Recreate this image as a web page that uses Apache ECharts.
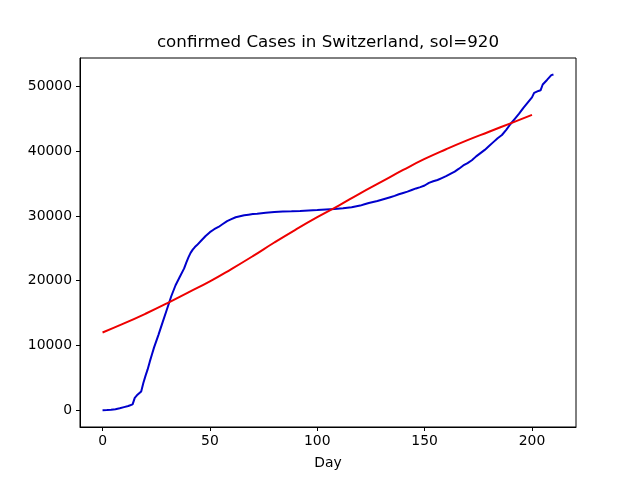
<!DOCTYPE html>
<html lang="en">
<head>
    <meta charset="UTF-8">
    <title>confirmed Cases in Switzerland</title>
    <script src="https://cdn.jsdelivr.net/npm/echarts@6/dist/echarts.min.js"></script>
    <style>
        body { margin: 0; background: #fff; }
        #main { width: 640px; height: 480px; }
    </style>
</head>
<body>
    <div id="main"></div>
    <script type="text/javascript">
        // observed confirmed cases (blue)
        var caseDays = [0, 2, 4, 6, 8, 10, 12, 14, 15, 16, 18, 19, 20, 21, 22, 23, 24, 26, 28, 30,
            32, 34, 36, 38, 39, 40, 41, 42, 43, 44, 46, 48, 50, 52, 54, 56, 58, 60, 62, 64, 66,
            68, 70, 72, 74, 76, 80, 84, 88, 92, 96, 100, 104, 108, 112, 116, 120, 122, 124, 126, 128,
            130, 132, 134, 136, 138, 140, 142, 144, 146, 148, 150, 152, 154, 156, 158, 160, 162, 164, 166, 168,
            170, 172, 174, 176, 178, 180, 182, 184, 186, 188, 190, 192, 194, 196, 198, 200, 201, 203, 204, 205,
            207, 209, 210];
        var cases = [0, 20, 60, 150, 300, 480, 650, 900, 1900, 2300, 2900, 4200, 5300, 6300, 7500, 8600, 9700, 11600, 13600, 15600,
            17600, 19300, 20600, 21900, 22800, 23600, 24300, 24800, 25200, 25500, 26200, 26900, 27500, 27950, 28300, 28750, 29200, 29500, 29800, 29950, 30100,
            30200, 30300, 30350, 30420, 30480, 30600, 30680, 30720, 30780, 30850, 30920, 31000, 31080, 31200, 31350, 31600, 31800, 32000, 32150, 32300,
            32500, 32700, 32900, 33100, 33350, 33550, 33750, 34000, 34250, 34450, 34700, 35100, 35350, 35550, 35850, 36150, 36500, 36850, 37300, 37800,
            38150, 38600, 39200, 39700, 40200, 40800, 41400, 42000, 42500, 43300, 44200, 45000, 45800, 46700, 47500, 48300, 49000, 49300, 49400, 50300,
            51000, 51750, 51850];

        // fitted curve (red)
        var fitDays = [0, 10, 20, 30, 40, 50, 60, 70, 80, 90, 100, 110, 120, 130, 140, 150, 160, 170, 180, 190, 200];
        var fitCases = [12000, 13400, 14900, 16500, 18200, 19900, 21800, 23800, 25900, 27900, 29800, 31600, 33500, 35300, 37100, 38800, 40300, 41700, 43000, 44300, 45600];

        var xTicks = [0, 50, 100, 150, 200];
        var yTicks = [0, 10000, 20000, 30000, 40000, 50000];

        function pairs(xs, ys) {
            return xs.map(function (x, i) { return [x, ys[i]]; });
        }

        var font = 'DejaVu Sans';
        var myChart = echarts.init(document.getElementById('main'));

        var option = {
            animation: false,
            graphic: [{
                type: 'text',
                x: 328,
                y: 43,
                style: {
                    text: 'confirmed Cases in Switzerland, sol=920',
                    align: 'center',
                    verticalAlign: 'middle',
                    fontFamily: font,
                    fontSize: 16.7,
                    fill: '#000'
                }
            }],
            grid: {
                left: 80, right: 64, top: 58, bottom: 53,
                show: true, borderColor: '#000', borderWidth: 1
            },
            xAxis: {
                type: 'value',
                min: -10.5,
                max: 220.5,
                name: 'Day',
                nameLocation: 'middle',
                nameGap: 29,
                nameTextStyle: { fontFamily: font, fontSize: 13.9, color: '#000' },
                axisLine: { show: true, onZero: false, lineStyle: { color: '#000' } },
                axisTick: { show: true, length: 4, customValues: xTicks, lineStyle: { color: '#000' } },
                axisLabel: { margin: 7, customValues: xTicks, fontFamily: font, fontSize: 13.9, color: '#000' },
                splitLine: { show: false }
            },
            yAxis: {
                type: 'value',
                min: -2590,
                max: 54390,
                axisLine: { show: true, onZero: false, lineStyle: { color: '#000' } },
                axisTick: { show: true, length: 4, customValues: yTicks, lineStyle: { color: '#000' } },
                axisLabel: {
                    margin: 8, customValues: yTicks, fontFamily: font, fontSize: 13.9, color: '#000',
                    formatter: function (v) { return String(v); }
                },
                splitLine: { show: false }
            },
            series: [{
                type: 'line',
                data: pairs(caseDays, cases),
                showSymbol: false,
                lineStyle: { color: '#0000cc', width: 2 }
            }, {
                type: 'line',
                data: pairs(fitDays, fitCases),
                smooth: true,
                showSymbol: false,
                lineStyle: { color: '#ee0000', width: 2 }
            }]
        };

        myChart.setOption(option);
    </script>
</body>
</html>
